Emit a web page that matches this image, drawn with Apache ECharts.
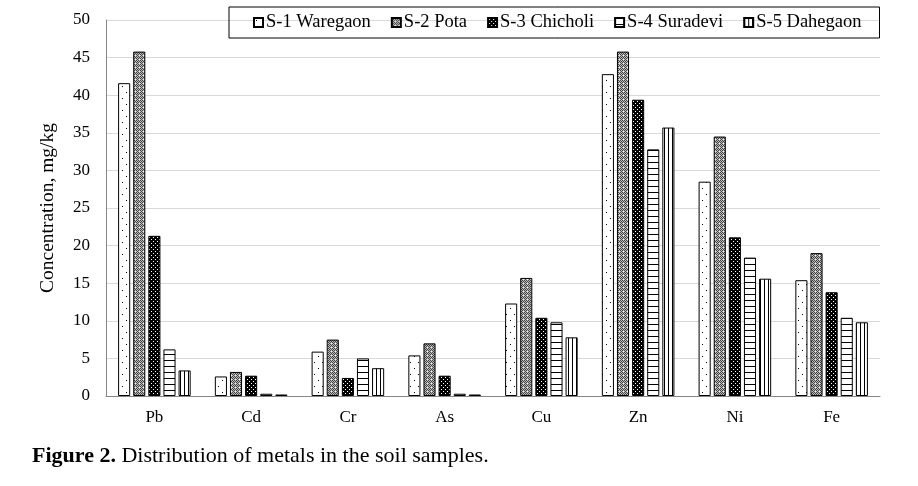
<!DOCTYPE html>
<html><head><meta charset="utf-8">
<script src="https://cdn.jsdelivr.net/npm/echarts@6/dist/echarts.min.js"></script>
<style>html,body{margin:0;padding:0;background:#fff}#c{width:918px;height:486px}</style>
</head><body><div id="c"></div>
<script>
const categories = ['Pb','Cd','Cr','As','Cu','Zn','Ni','Fe'];
const seriesNames = ['S-1 Waregaon','S-2 Pota','S-3 Chicholi','S-4 Suradevi','S-5 Dahegaon'];
const s1 = [41.6, 2.6, 5.9, 5.4, 12.3, 42.8, 28.5, 15.4];
const s2 = [45.8, 3.2, 7.5, 7.0, 15.7, 45.8, 34.5, 19.0];
const s3 = [21.3, 2.7, 2.4, 2.7, 10.4, 39.4, 21.1, 13.8];
const s4 = [6.2, 0.3, 5.0, 0.3, 9.8, 32.8, 18.4, 10.4];
const s5 = [3.4, 0.2, 3.7, 0.2, 7.8, 35.7, 15.6, 9.8];
const values = [s1, s2, s3, s4, s5];
const yTicks = {min: 0, max: 50, interval: 5};

function tile(w, h, draw) {
  const c = document.createElement('canvas');
  c.width = w; c.height = h;
  const g = c.getContext('2d');
  draw(g);
  return {image: c, repeat: 'repeat'};
}
const patterns = [
  tile(8, 12, g => { g.fillStyle = '#fff'; g.fillRect(0,0,8,12); g.fillStyle = '#000';
    g.fillRect(2,2,1,1); g.fillRect(6,8,1,1); }),
  tile(4, 4, g => { g.fillStyle = '#bbb'; g.fillRect(0,0,4,4); g.fillStyle = '#444';
    g.fillRect(0,0,1,1); g.fillRect(2,0,1,1); g.fillRect(1,1,1,1); g.fillRect(3,1,1,1);
    g.fillRect(0,2,1,1); g.fillRect(2,2,1,1); g.fillRect(1,3,1,1); g.fillStyle='#eee'; g.fillRect(3,3,1,1); }),
  tile(4, 4, g => { g.fillStyle = '#000'; g.fillRect(0,0,4,4); g.fillStyle = '#fff';
    g.fillRect(1,1,1,1); g.fillRect(3,3,1,1); }),
  tile(1, 6, g => { g.fillStyle = '#fff'; g.fillRect(0,0,1,6); g.fillStyle = '#000'; g.fillRect(0,0,1,1); }),
  tile(4, 1, g => { g.fillStyle = '#fff'; g.fillRect(0,0,4,1); g.fillStyle = '#000'; g.fillRect(0,0,1,1); })
];

const font = '"Liberation Serif","Times New Roman",serif';
const chart = echarts.init(document.getElementById('c'), null, {renderer: 'canvas'});
chart.setOption({
  animation: false,
  backgroundColor: '#fff',
  grid: {left: 106, right: 38, top: 20, bottom: 90, containLabel: false},
  legend: {
    top: 7, left: 229,
    data: seriesNames,
    icon: 'rect',
    itemWidth: 9, itemHeight: 9, itemGap: 20,
    borderColor: '#000', borderWidth: 1, borderRadius: 0,
    padding: [6, 18, 6, 24],
    textStyle: {fontFamily: font, fontSize: 18.5, color: '#000', padding: [0,0,0,-2]}
  },
  xAxis: {
    type: 'category', data: categories,
    axisLine: {lineStyle: {color: '#868686', width: 1}},
    axisTick: {show: false},
    axisLabel: {fontFamily: font, fontSize: 17, color: '#000', margin: 13}
  },
  yAxis: {
    type: 'value', min: yTicks.min, max: yTicks.max, interval: yTicks.interval,
    name: 'Concentration, mg/kg', nameLocation: 'middle', nameGap: 48,
    nameTextStyle: {fontFamily: font, fontSize: 19.5, color: '#000'},
    axisLine: {show: true, lineStyle: {color: '#868686', width: 1}},
    axisTick: {show: false},
    axisLabel: {fontFamily: font, fontSize: 17, color: '#000', margin: 16},
    splitLine: {lineStyle: {color: '#d9d9d9', width: 1}}
  },
  series: values.map((v, i) => ({
    name: seriesNames[i], type: 'bar', data: v,
    barGap: '25%', barCategoryGap: '25%',
    itemStyle: {color: patterns[i], borderColor: '#000', borderWidth: 1},
    emphasis: {disabled: true}
  })),
  graphic: [{
    type: 'text', left: 32, top: 445,
    style: {
      text: '{b|Figure 2.} Distribution of metals in the soil samples.',
      rich: {b: {fontWeight: 'bold', fontFamily: font, fontSize: 22, fill: '#000'}},
      fontFamily: font, fontSize: 22, fill: '#000'
    }
  }]
});
</script></body></html>
